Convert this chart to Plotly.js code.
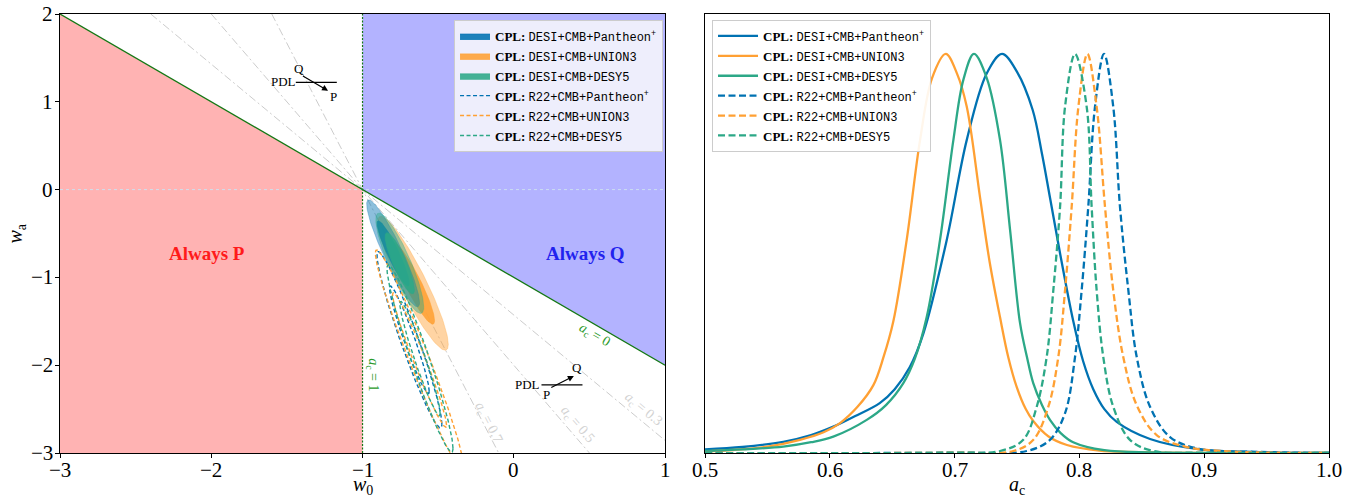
<!DOCTYPE html>
<html><head><meta charset="utf-8">
<script src="https://cdn.plot.ly/plotly-3.0.1.min.js"></script>
<style>html,body{margin:0;padding:0;background:#fff}#chart{width:1354px;height:497px}</style>
</head><body><div id="chart"></div>
<script>
// ---------------- data ----------------
const desiLabels = ['DESI+CMB+Pantheon<sup>+</sup>', 'DESI+CMB+UNION3', 'DESI+CMB+DESY5'];
const r22Labels  = ['R22+CMB+Pantheon<sup>+</sup>', 'R22+CMB+UNION3', 'R22+CMB+DESY5'];
const seriesColors = ['0,114,178', '255,160,51', '44,168,135'];

// Gaussian approximations of the (w0, wa) posteriors
const desiMeanW0 = [-0.798, -0.666, -0.754];
const desiMeanWa = [-0.726, -1.067, -0.839];
const desiSdW0   = [0.0703, 0.0937, 0.0637];
const desiSdWa   = [0.245, 0.307, 0.230];
const desiRho    = [-0.919, -0.912, -0.867];
const r22MeanW0  = [-0.690, -0.623, -0.620];
const r22MeanWa  = [-1.711, -1.941, -1.924];
const r22SdW0    = [0.0863, 0.1175, 0.0877];
const r22SdWa    = [0.404, 0.504, 0.429];
const r22Rho     = [-0.956, -0.970, -0.957];
const sigmaLevels = [2.486, 1.517];   // sqrt(delta chi2) for 2 sigma, 1 sigma

// regions of the w0-wa plane
const alwaysPW0 = [-3, -1, -1, -3];
const alwaysPWa = [2, 0, -3, -3];
const alwaysQW0 = [-1, 1, 1, -1];
const alwaysQWa = [0, -2, 2, 2];
const acZeroW0 = [-3, 1];
const acZeroWa = [2, -2];
const acOneW0 = [-1, -1];
const acOneWa = [-3, 2];
const waZeroW0 = [-3, 1];
const waZeroWa = [0, 0];
const acLevels = [0.3, 0.5, 0.7];

// tick labels
const w0Ticks = [-3, -2, -1, 0, 1];
const waTicks = [-3, -2, -1, 0, 1, 2];
const acTicks = [0.5, 0.6, 0.7, 0.8, 0.9, 1.0];
const acTickText = ['0.5', '0.6', '0.7', '0.8', '0.9', '1.0'];

// 1D posteriors of a_c
const acDesiPantheon = [0.50, 0.53, 0.5627, 0.585, 0.6028, 0.62, 0.64, 0.652, 0.664, 0.675, 0.6937, 0.7097, 0.7257, 0.738, 0.75, 0.7625, 0.770, 0.7764, 0.7845, 0.7951, 0.803, 0.8111, 0.82, 0.8299, 0.8566, 0.8966, 0.95, 1.0];
const pDesiPantheon  = [0.009, 0.015, 0.028, 0.045, 0.066, 0.092, 0.125, 0.16, 0.215, 0.30, 0.534, 0.784, 0.951, 1.0, 0.955, 0.86, 0.75, 0.64, 0.50, 0.33, 0.23, 0.16, 0.11, 0.078, 0.035, 0.009, 0.002, 0.0005];
const acDesiUnion3 = [0.50, 0.5224, 0.55, 0.5761, 0.595, 0.6082, 0.622, 0.6349, 0.643, 0.6509, 0.6616, 0.6723, 0.682, 0.6929, 0.702, 0.7097, 0.7204, 0.728, 0.7364, 0.743, 0.7498, 0.757, 0.763, 0.775, 0.79, 0.816, 0.86, 1.0];
const pDesiUnion3  = [0.004, 0.0075, 0.016, 0.033, 0.052, 0.075, 0.115, 0.17, 0.24, 0.33, 0.534, 0.784, 0.94, 1.0, 0.95, 0.868, 0.64, 0.48, 0.34, 0.24, 0.165, 0.11, 0.08, 0.042, 0.02, 0.006, 0.0015, 0.0];
const acDesiDESY5 = [0.50, 0.53, 0.5627, 0.585, 0.6028, 0.6296, 0.645, 0.6589, 0.668, 0.6776, 0.6883, 0.699, 0.707, 0.7155, 0.7257, 0.7364, 0.7444, 0.7524, 0.758, 0.763, 0.770, 0.7764, 0.785, 0.795, 0.82, 0.86, 1.0];
const pDesiDESY5  = [0.005, 0.009, 0.016, 0.027, 0.041, 0.083, 0.12, 0.175, 0.235, 0.34, 0.534, 0.784, 0.935, 1.0, 0.94, 0.784, 0.56, 0.326, 0.24, 0.175, 0.12, 0.083, 0.05, 0.027, 0.007, 0.0015, 0.0];
const acR22Pantheon = [0.50, 0.70, 0.7577, 0.7764, 0.7885, 0.7965, 0.8018, 0.8071, 0.8125, 0.8197, 0.8271, 0.8325, 0.8392, 0.8459, 0.8566, 0.8726, 0.8966, 0.94, 1.0];
const pR22Pantheon  = [0.0, 0.001, 0.005, 0.033, 0.10, 0.241, 0.408, 0.617, 0.868, 1.0, 0.868, 0.617, 0.408, 0.241, 0.116, 0.04, 0.01, 0.003, 0.0];
const acR22Union3 = [0.50, 0.70, 0.747, 0.7631, 0.7751, 0.7831, 0.7885, 0.7938, 0.7992, 0.8064, 0.8138, 0.8205, 0.8271, 0.8351, 0.8459, 0.8619, 0.886, 0.92, 1.0];
const pR22Union3  = [0.0, 0.001, 0.005, 0.033, 0.116, 0.241, 0.408, 0.617, 0.868, 1.0, 0.868, 0.617, 0.408, 0.241, 0.12, 0.045, 0.015, 0.004, 0.0];
const acR22DESY5 = [0.50, 0.70, 0.7364, 0.755, 0.7658, 0.7738, 0.7791, 0.7845, 0.7885, 0.7965, 0.8058, 0.8098, 0.8138, 0.8191, 0.8271, 0.8405, 0.8592, 0.90, 1.0];
const pR22DESY5  = [0.0, 0.001, 0.005, 0.033, 0.116, 0.241, 0.408, 0.617, 0.868, 1.0, 0.868, 0.617, 0.408, 0.241, 0.116, 0.033, 0.005, 0.001, 0.0];

const acSeriesX = [acDesiPantheon, acDesiUnion3, acDesiDESY5, acR22Pantheon, acR22Union3, acR22DESY5];
const acSeriesY = [pDesiPantheon, pDesiUnion3, pDesiDESY5, pR22Pantheon, pR22Union3, pR22DESY5];

// ---------------- helpers ----------------
function ellipse(mx, my, sx, sy, rho, k) {
  const xs = [], ys = [], s = Math.sqrt(1 - rho * rho), n = 140;
  for (let i = 0; i <= n; i++) {
    const t = 2 * Math.PI * i / n, c = Math.cos(t), d = Math.sin(t);
    xs.push(mx + k * sx * c);
    ys.push(my + k * sy * (rho * c + s * d));
  }
  return {x: xs, y: ys};
}
function legendName(label) {
  return '<b>CPL:</b> <span style="font-family:Liberation Mono, monospace;font-size:12px">' + label + '</span>';
}
function fmt(v) { return v < 0 ? '\u2212' + Math.abs(v) : String(v); }

const traces = [];
traces.push({type:'scatter', mode:'lines', x:alwaysPW0, y:alwaysPWa, fill:'toself', fillcolor:'#ffb3b3',
  line:{width:0}, hoverinfo:'skip', showlegend:false, xaxis:'x', yaxis:'y'});
traces.push({type:'scatter', mode:'lines', x:alwaysQW0, y:alwaysQWa, fill:'toself', fillcolor:'#b3b3ff',
  line:{width:0}, hoverinfo:'skip', showlegend:false, xaxis:'x', yaxis:'y'});
traces.push({type:'scatter', mode:'lines', x:waZeroW0, y:waZeroWa, line:{color:'rgba(205,225,240,0.95)', width:1, dash:'dot'},
  hoverinfo:'skip', showlegend:false, xaxis:'x', yaxis:'y'});
acLevels.forEach(ac => {
  const w0 = [-1 - 2 * (1 - ac), -1, -1 + 3 * (1 - ac)];
  const wa = w0.map(v => -(v + 1) / (1 - ac));
  traces.push({type:'scatter', mode:'lines', x:w0, y:wa, line:{color:'#cccccc', width:1, dash:'8px,3px,2px,3px'},
    hoverinfo:'skip', showlegend:false, xaxis:'x', yaxis:'y'});
});
traces.push({type:'scatter', mode:'lines', x:acZeroW0, y:acZeroWa, line:{color:'#147814', width:1.3},
  hoverinfo:'skip', showlegend:false, xaxis:'x', yaxis:'y'});
traces.push({type:'scatter', mode:'lines', x:acOneW0, y:acOneWa, line:{color:'#147814', width:1.2, dash:'2px,1.5px'},
  hoverinfo:'skip', showlegend:false, xaxis:'x', yaxis:'y'});

[1, 0, 2].forEach(i => {
  sigmaLevels.forEach((k, j) => {
    const e = ellipse(desiMeanW0[i], desiMeanWa[i], desiSdW0[i], desiSdWa[i], desiRho[i], k);
    traces.push({type:'scatter', mode:'lines', x:e.x, y:e.y, fill:'toself',
      fillcolor:'rgba(' + seriesColors[i] + ',' + (j === 0 ? 0.45 : 0.88) + ')',
      line:{color:'rgba(' + seriesColors[i] + ',' + (j === 0 ? 0.5 : 0.9) + ')', width:0.6},
      name: legendName(desiLabels[i]), showlegend: j === 1, legendrank: 100 + i,
      hoverinfo:'skip', xaxis:'x', yaxis:'y', legend:'legend'});
  });
});
[0, 1, 2].forEach(i => {
  sigmaLevels.forEach((k, j) => {
    const e = ellipse(r22MeanW0[i], r22MeanWa[i], r22SdW0[i], r22SdWa[i], r22Rho[i], k);
    traces.push({type:'scatter', mode:'lines', x:e.x, y:e.y,
      line:{color:'rgb(' + seriesColors[i] + ')', width:1.4, dash:'4px,2.5px'},
      name: legendName(r22Labels[i]), showlegend: j === 1, legendrank: 200 + i,
      hoverinfo:'skip', xaxis:'x', yaxis:'y', legend:'legend'});
  });
});

const allLabels = desiLabels.concat(r22Labels);
acSeriesX.forEach((xs, i) => {
  traces.push({type:'scatter', mode:'lines', x:xs, y:acSeriesY[i],
    line:{color:'rgb(' + seriesColors[i % 3] + ')', width:2.3, shape:'spline', smoothing:1,
      dash: i < 3 ? 'solid' : '7px,3.5px'},
    name: legendName(allLabels[i]), hoverinfo:'skip', xaxis:'x2', yaxis:'y2', legend:'legend2'});
});

const serif = 'Liberation Serif';
const tickFont = {family:serif, size:21, color:'#000'};
const titleFont = {family:serif, size:20, color:'#000'};
const axisLook = {showline:true, linecolor:'#000', linewidth:1, mirror:true, showgrid:false, zeroline:false,
  ticks:'outside', ticklen:4, tickwidth:1, tickcolor:'#000', showticklabels:false};

// tick labels and axis titles placed with the axes' own scales
const axisAnnotations = [];
w0Ticks.forEach(v => axisAnnotations.push({xref:'x', yref:'paper', x:v, y:0, yanchor:'top', yshift:-3,
  text:fmt(v), showarrow:false, font:tickFont}));
waTicks.forEach(v => axisAnnotations.push({xref:'paper', yref:'y', x:0, y:v, xanchor:'right', xshift:-5,
  text:fmt(v), showarrow:false, font:tickFont}));
acTicks.forEach((v, i) => axisAnnotations.push({xref:'x2', yref:'paper', x:v, y:0, yanchor:'top', yshift:-3,
  text:acTickText[i], showarrow:false, font:tickFont}));
axisAnnotations.push({xref:'x', yref:'paper', x:-1, y:0, yanchor:'top', yshift:-18,
  text:'<i>w</i><sub>0</sub>', showarrow:false, font:titleFont});
axisAnnotations.push({xref:'x2', yref:'paper', x:0.75, y:0, yanchor:'top', yshift:-18,
  text:'<i>a</i><sub>c</sub>', showarrow:false, font:titleFont});
axisAnnotations.push({xref:'paper', yref:'y', x:0, y:-0.5, xanchor:'center', xshift:-44, textangle:-90,
  text:'<i>w</i><sub>a</sub>', showarrow:false, font:titleFont});

const layout = {
  width:1354, height:497,
  margin:{l:60, r:25, t:14, b:44},
  paper_bgcolor:'#fff', plot_bgcolor:'#fff',
  font:{family:serif, size:14, color:'#000'},
  xaxis:Object.assign({}, axisLook, {domain:[0, 0.4768], range:[-3, 1], tickmode:'array', tickvals:w0Ticks}),
  yaxis:Object.assign({}, axisLook, {domain:[0, 1], range:[-3, 2], tickmode:'array', tickvals:waTicks}),
  xaxis2:Object.assign({}, axisLook, {domain:[0.5083, 1], range:[0.5, 1.0], anchor:'y2', tickmode:'array', tickvals:acTicks}),
  yaxis2:Object.assign({}, axisLook, {domain:[0, 1], range:[0, 1.1], anchor:'x2', ticks:''}),
  legend:{x:0.4752, y:0.9863, xanchor:'right', yanchor:'top', bgcolor:'#eeeefc', bordercolor:'#cccccc', borderwidth:1,
    font:{family:serif, size:13, color:'#000'}, tracegroupgap:0, itemwidth:30},
  legend2:{x:0.5138, y:0.9863, xanchor:'left', yanchor:'top', bgcolor:'rgba(255,255,255,0.9)', bordercolor:'#cccccc', borderwidth:1,
    font:{family:serif, size:13, color:'#000'}, tracegroupgap:0, itemwidth:40},
  shapes:[
    {type:'line', xref:'x', yref:'y', x0:-1.441, x1:-1.170, y0:1.222, y1:1.222, line:{color:'#000', width:1.2}},
    {type:'line', xref:'x', yref:'y', x0:0.183, x1:0.454, y0:-2.225, y1:-2.225, line:{color:'#000', width:1.2}}
  ],
  annotations:axisAnnotations.concat([
    {xref:'x', yref:'y', x:-2.03, y:-0.733, text:'<b>Always P</b>', showarrow:false, font:{family:serif, size:19, color:'#ff1a1a'}},
    {xref:'x', yref:'y', x:0.476, y:-0.733, text:'<b>Always Q</b>', showarrow:false, font:{family:serif, size:19, color:'#2222ee'}},
    {xref:'x', yref:'y', x:0.536, y:-1.656, text:'<i>a</i><sub>c</sub> = 0', textangle:30.1, showarrow:false, font:{family:serif, size:14, color:'#2b9a2b'}},
    {xref:'x', yref:'y', x:-0.932, y:-2.112, text:'<i>a</i><sub>c</sub> = 1', textangle:90, showarrow:false, font:{family:serif, size:14, color:'#2b9a2b'}},
    {xref:'x', yref:'y', x:0.853, y:-2.51, text:'<i>a</i><sub>c</sub> = 0.3', textangle:39.7, showarrow:false, font:{family:serif, size:14, color:'#d2d2d2'}},
    {xref:'x', yref:'y', x:0.4165, y:-2.681, text:'<i>a</i><sub>c</sub> = 0.5', textangle:49.3, showarrow:false, font:{family:serif, size:14, color:'#d2d2d2'}},
    {xref:'x', yref:'y', x:-0.172, y:-2.658, text:'<i>a</i><sub>c</sub> = 0.7', textangle:62.7, showarrow:false, font:{family:serif, size:14, color:'#d2d2d2'}},
    {xref:'x', yref:'y', x:-1.524, y:1.226, text:'PDL', showarrow:false, font:{family:serif, size:13, color:'#000'}},
    {xref:'x', yref:'y', x:-1.421, y:1.385, text:'Q', showarrow:false, font:{family:serif, size:13, color:'#000'}},
    {xref:'x', yref:'y', x:-1.190, y:1.066, text:'P', showarrow:false, font:{family:serif, size:13, color:'#000'}},
    {xref:'x', yref:'y', axref:'x', ayref:'y', x:-1.228, y:1.126, ax:-1.404, ay:1.305, text:'', showarrow:true,
      arrowhead:2, arrowsize:1, arrowwidth:1.2, arrowcolor:'#000'},
    {xref:'x', yref:'y', x:0.093, y:-2.225, text:'PDL', showarrow:false, font:{family:serif, size:13, color:'#000'}},
    {xref:'x', yref:'y', x:0.216, y:-2.339, text:'P', showarrow:false, font:{family:serif, size:13, color:'#000'}},
    {xref:'x', yref:'y', x:0.4165, y:-2.031, text:'Q', showarrow:false, font:{family:serif, size:13, color:'#000'}},
    {xref:'x', yref:'y', axref:'x', ayref:'y', x:0.397, y:-2.123, ax:0.238, ay:-2.263, text:'', showarrow:true,
      arrowhead:2, arrowsize:1, arrowwidth:1.2, arrowcolor:'#000'}
  ])
};

Plotly.newPlot('chart', traces, layout, {displayModeBar:false, staticPlot:true});
</script>
</body></html>
